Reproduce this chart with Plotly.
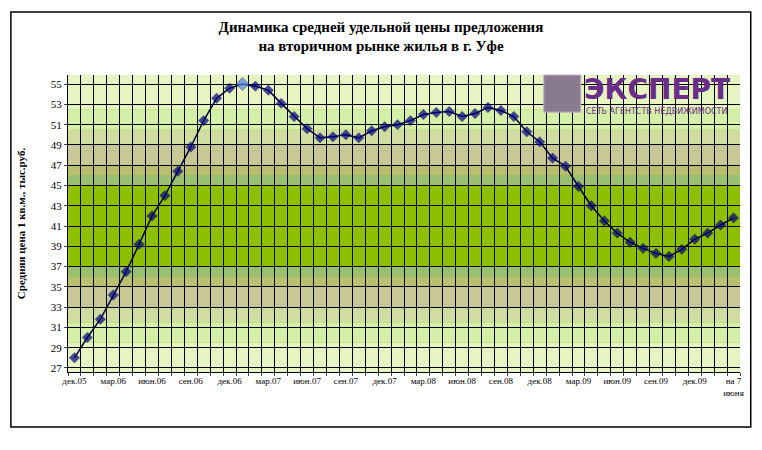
import plotly.graph_objects as go

values = [28, 30, 31.8, 34.2, 36.5, 39.2, 42, 44, 46.4, 48.8, 51.4, 53.6, 54.6, 55, 54.8, 54.4,
          53.1, 51.8, 50.6, 49.7, 49.8, 50, 49.7, 50.4, 50.8, 51, 51.4, 52, 52.2, 52.3, 51.8, 52.1,
          52.7, 52.4, 51.8, 50.3, 49.3, 47.7, 46.9, 44.9, 43, 41.5, 40.3, 39.4, 38.8, 38.3, 38,
          38.7, 39.7, 40.3, 41.1, 41.8]
tick_labels = ["дек.05", "мар.06", "июн.06", "сен.06", "дек.06", "мар.07", "июн.07", "сен.07",
               "дек.07", "мар.08", "июн.08", "сен.08", "дек.08", "мар.09", "июн.09", "сен.09",
               "дек.09", "на 7<br>июня"]
tick_pos = [i * 3 for i in range(17)] + [len(values) - 1]
peak_index = 13

x = list(range(len(values)))
colors = ["#000080"] * len(values)
colors[peak_index] = "#4f81d8"
sizes = [8] * len(values)
sizes[peak_index] = 10

fig = go.Figure()
fig.add_trace(go.Scatter(x=x, y=values, mode="lines+markers",
                         line=dict(color="#000040", width=1.5),
                         marker=dict(symbol="diamond", size=sizes, color=colors,
                                     line=dict(color="#000040", width=0.5))))

bands = [(26.5, 29.5, "#e6f4c2"), (29.5, 31.5, "#d4f0a8"), (31.5, 33, "#d0dca0"), (33, 35, "#c8c896"),
         (35, 36, "#b8c070"), (36, 37, "#98c070"), (37, 45, "#8cc000"),
         (45, 46, "#98c070"), (46, 47, "#b8c070"), (47, 49, "#c8c896"), (49, 50.5, "#d0dca0"),
         (50.5, 52.5, "#d4f0a8"), (52.5, 56, "#e6f4c2")]
for y0, y1, c in bands:
    fig.add_hrect(y0=y0, y1=y1, fillcolor=c, line_width=0, layer="below")

fig.add_shape(type="rect", xref="paper", yref="paper", x0=-0.085, x1=1.016, y0=-0.185, y1=1.212,
              line=dict(color="black", width=1.5))

# logo
fig.add_shape(type="rect", xref="paper", yref="paper", x0=0.708, x1=0.763, y0=0.875, y1=1.0,
              fillcolor="#8a7a90", line=dict(color="#c0b0c8", width=1))
fig.add_annotation(xref="paper", yref="paper", x=0.765, y=1.015, xanchor="left", yanchor="top",
                   text="<b>ЭКСПЕРТ</b>", showarrow=False,
                   font=dict(family="DejaVu Sans", size=28, color="#6b2c8a"))
fig.add_annotation(xref="paper", yref="paper", x=0.768, y=0.9, xanchor="left", yanchor="top",
                   text="СЕТЬ АГЕНТСТВ НЕДВИЖИМОСТИ", showarrow=False,
                   font=dict(family="DejaVu Sans", size=8, color="#6b2c8a"))

fig.update_layout(
    width=746, height=434, margin=dict(l=60, r=14, t=67, b=70, autoexpand=False),
    paper_bgcolor="white", plot_bgcolor="#8cc000", showlegend=False,
    font=dict(family="Liberation Serif", color="black"),
    title=dict(text="<b>Динамика средней удельной цены предложения<br>на вторичном рынке жилья в г. Уфе</b>",
               x=0.5, y=0.945, xanchor="center", yanchor="top", font=dict(size=15)),
    xaxis=dict(range=[-0.5, len(values) - 0.5], tickmode="array", tickvals=tick_pos,
               ticktext=tick_labels, showgrid=False, zeroline=False, automargin=False,
               tickfont=dict(size=9, family="Liberation Serif"),
               showline=True, linecolor="black",
               minor=dict(tickmode="linear", tick0=0.5, dtick=1, showgrid=True,
                          gridcolor="black", gridwidth=1.2, ticks="outside", ticklen=3)),
    yaxis=dict(range=[26.6, 55.9], tickmode="linear", tick0=27, dtick=2, automargin=False,
               showgrid=True, gridcolor="black", gridwidth=1.2, zeroline=False,
               tickfont=dict(size=11), showline=True, linecolor="black", ticks="outside", ticklen=3,
               title=dict(text="<b>Средняя цена 1 кв.м., тыс.руб.</b>", font=dict(size=11), standoff=22)),
)
fig.write_html("out.html")
